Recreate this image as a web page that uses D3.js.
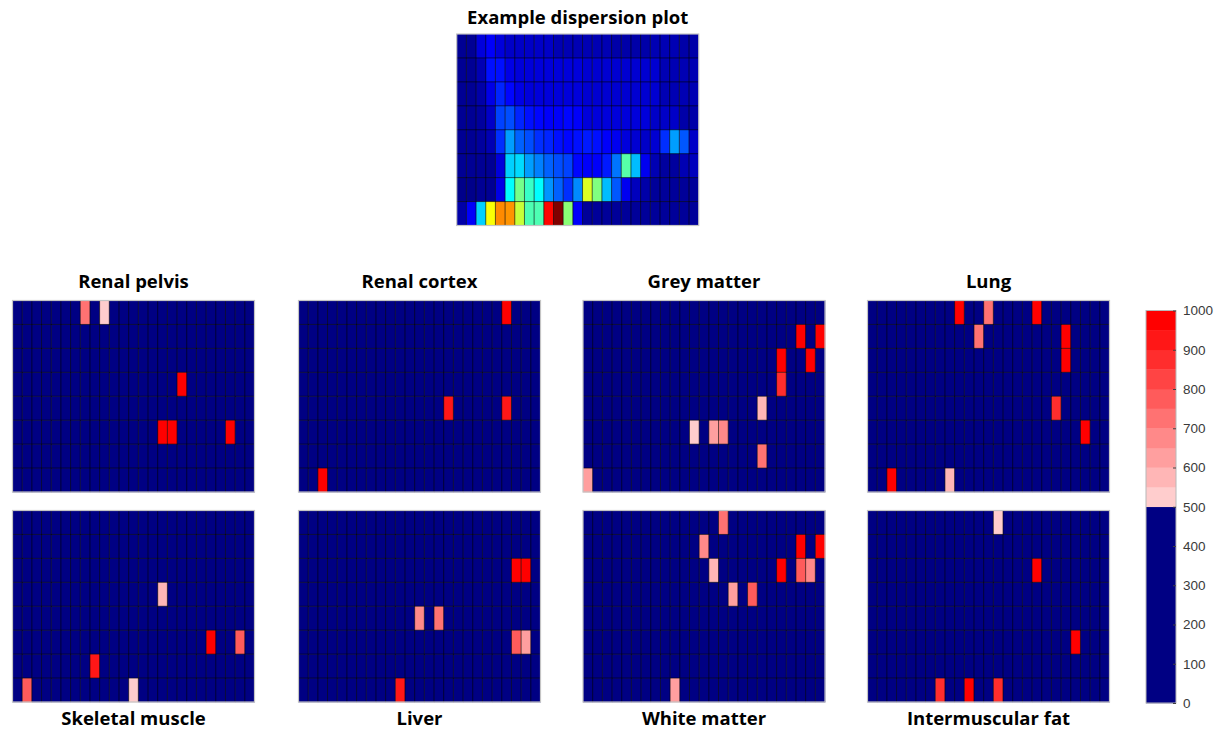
<!DOCTYPE html>
<html>
<head>
<meta charset="utf-8">
<script src="https://cdn.jsdelivr.net/npm/d3@7"></script>
<style>
  html, body { margin: 0; padding: 0; background: #fff; }
  svg { display: block; }
</style>
</head>
<body>
<svg id="chart" width="1220" height="731"></svg>
<script>
// ---- Example dispersion plot: normalised intensity (0..1, jet colormap), rows top → bottom
const dispersionRows = [
  [0.02,0.02,0.09,0.12,0.09,0.07,0.07,0.07,0.07,0.07,0.05,0.05,0.05,0.05,0.05,0.05,0.04,0.04,0.04,0.04,0.05,0.05,0.05,0.04,0.04],
  [0.02,0.02,0.05,0.14,0.14,0.10,0.09,0.09,0.09,0.09,0.09,0.09,0.09,0.08,0.08,0.08,0.08,0.08,0.08,0.08,0.08,0.05,0.05,0.05,0.05],
  [0.02,0.02,0.04,0.10,0.16,0.13,0.10,0.09,0.09,0.09,0.09,0.09,0.09,0.08,0.08,0.08,0.08,0.08,0.08,0.08,0.08,0.05,0.05,0.05,0.05],
  [0.02,0.02,0.03,0.07,0.19,0.20,0.16,0.14,0.13,0.12,0.12,0.13,0.12,0.09,0.09,0.09,0.09,0.09,0.09,0.09,0.07,0.07,0.07,0.04,0.04],
  [0.02,0.02,0.03,0.05,0.17,0.28,0.22,0.20,0.17,0.16,0.14,0.13,0.14,0.15,0.14,0.12,0.11,0.09,0.08,0.07,0.08,0.17,0.28,0.21,0.07],
  [0.02,0.02,0.02,0.02,0.09,0.33,0.34,0.28,0.25,0.22,0.20,0.19,0.13,0.12,0.12,0.15,0.24,0.46,0.31,0.11,0.05,0.03,0.03,0.05,0.06],
  [0.01,0.01,0.02,0.02,0.10,0.375,0.49,0.43,0.375,0.27,0.22,0.17,0.26,0.59,0.50,0.31,0.21,0.11,0.06,0.04,0.025,0.025,0.025,0.025,0.025],
  [0.04,0.12,0.33,0.62,0.74,0.73,0.57,0.45,0.45,0.87,1.00,0.51,0.12,0.025,0.025,0.025,0.025,0.025,0.025,0.025,0.025,0.025,0.025,0.025,0.025]
];

// ---- Tissue panels: cells above threshold as [row, column, value]; all other cells are 0
const tissueNames = ["Renal pelvis", "Renal cortex", "Grey matter", "Lung",
                     "Skeletal muscle", "Liver", "White matter", "Intermuscular fat"];
const renalPelvis     = [[0,7,730],[0,9,520],[3,17,980],[5,15,980],[5,16,990],[5,22,970]];
const renalCortex     = [[0,21,960],[4,15,930],[4,21,940],[7,2,980]];
const greyMatter      = [[1,22,990],[1,24,990],[2,20,980],[2,23,980],[3,20,880],[4,18,580],
                         [5,11,520],[5,13,600],[5,14,690],[6,18,730],[7,0,640]];
const lung            = [[0,9,990],[0,12,730],[0,17,950],[1,11,720],[1,20,960],[2,20,950],
                         [4,19,880],[5,22,990],[7,2,990],[7,8,570]];
const skeletalMuscle  = [[3,15,570],[5,20,990],[5,23,790],[6,8,900],[7,1,770],[7,12,520]];
const liver           = [[2,22,990],[2,23,990],[4,12,650],[4,14,720],[5,22,780],[5,23,630],[7,10,900]];
const whiteMatter     = [[0,14,730],[1,12,660],[1,22,990],[1,24,990],[2,13,590],[2,20,990],
                         [2,22,790],[2,23,670],[3,15,640],[3,17,790],[7,9,620]];
const intermuscularFat= [[0,13,520],[2,17,960],[5,21,980],[7,7,880],[7,10,990],[7,13,880]];
const tissueHits = [renalPelvis, renalCortex, greyMatter, lung,
                    skeletalMuscle, liver, whiteMatter, intermuscularFat];

// ---- Colour bar
const colorbarTicks = [0,100,200,300,400,500,600,700,800,900,1000];
const redSteps = [500,550,600,650,700,750,800,850,900,950,1000];

const N_COLS = 25, N_ROWS = 8;
const PANEL_W = 242, PANEL_H = 191.5;
const NAVY = "#000083";

// MATLAB-style jet colormap
function jet(v) {
  const c = x => Math.max(0, Math.min(1, x));
  const r = c(Math.min(4 * v - 1.5, -4 * v + 4.5));
  const g = c(Math.min(4 * v - 0.5, -4 * v + 3.5));
  const b = c(Math.min(4 * v + 0.5, -4 * v + 2.5));
  return d3.rgb(r * 255, g * 255, b * 255).formatHex();
}

// Threshold map for tissue values: below 500 → navy, then 10 red steps
const redColors = d3.range(10).map(k => d3.rgb(255, 205 - k * 22.8, 205 - k * 22.8).formatHex());
const tissueColor = d3.scaleThreshold()
  .domain(redSteps.slice(0, 10))
  .range([NAVY, ...redColors]);

const svg = d3.select("#chart");

const xBand = d3.scaleBand().domain(d3.range(N_COLS)).range([0, PANEL_W]);
const yBand = d3.scaleBand().domain(d3.range(N_ROWS)).range([0, PANEL_H]);

function drawPanel(x0, y0, cells, fill) {
  const g = svg.append("g").attr("transform", `translate(${x0},${y0})`);
  g.append("g").selectAll("rect").data(cells).join("rect")
    .attr("x", d => xBand(d.c))
    .attr("y", d => yBand(d.r))
    .attr("width", xBand.bandwidth() + 0.3)
    .attr("height", yBand.bandwidth() + 0.3)
    .attr("fill", d => fill(d.v));
  // cell edges
  const grid = g.append("g").attr("stroke", "#000").attr("stroke-opacity", 0.6).attr("stroke-width", 1);
  grid.selectAll("line.v").data(d3.range(1, N_COLS)).join("line")
    .attr("class", "v")
    .attr("x1", d => xBand(d)).attr("x2", d => xBand(d))
    .attr("y1", 0).attr("y2", PANEL_H);
  grid.selectAll("line.h").data(d3.range(1, N_ROWS)).join("line")
    .attr("class", "h")
    .attr("y1", d => yBand(d)).attr("y2", d => yBand(d))
    .attr("x1", 0).attr("x2", PANEL_W);
  g.append("rect")
    .attr("width", PANEL_W).attr("height", PANEL_H)
    .attr("fill", "none").attr("stroke", "#c4c4c4").attr("stroke-width", 1.2);
  return g;
}

function title(text, cx, y) {
  svg.append("text")
    .attr("x", cx).attr("y", y)
    .attr("text-anchor", "middle")
    .attr("font-family", "'Open Sans', sans-serif")
    .attr("font-weight", "bold")
    .attr("font-size", 18.5)
    .attr("fill", "#000")
    .text(text);
}

// Example dispersion plot
const dispCells = [];
dispersionRows.forEach((row, r) => row.forEach((v, c) => dispCells.push({ r, c, v })));
drawPanel(456.7, 34, dispCells, jet);
title("Example dispersion plot", 456.7 + PANEL_W / 2, 24);

// Tissue panels
const panelX = [12.5, 298.5, 583, 867.5];
const panelY = [300.5, 510.5];
tissueNames.forEach((name, i) => {
  const hits = tissueHits[i];
  const grid = [];
  for (let r = 0; r < N_ROWS; r++)
    for (let c = 0; c < N_COLS; c++) grid.push({ r, c, v: 0 });
  hits.forEach(([r, c, v]) => { grid[r * N_COLS + c].v = v; });
  const px = panelX[i % 4], py = panelY[Math.floor(i / 4)];
  drawPanel(px, py, grid, tissueColor);
  if (i < 4) title(name, px + PANEL_W / 2, 288);
  else title(name, px + PANEL_W / 2, 725);
});

// Colour bar
const cbX = 1146, cbW = 30;
const cbY = d3.scaleLinear().domain([0, 1000]).range([703, 310.5]);
const cb = svg.append("g");
const bins = [{ a: 0, b: 500, col: NAVY }].concat(
  d3.range(10).map(k => ({ a: redSteps[k], b: redSteps[k + 1], col: redColors[k] })));
cb.selectAll("rect.bin").data(bins).join("rect")
  .attr("class", "bin")
  .attr("x", cbX).attr("width", cbW)
  .attr("y", d => cbY(d.b)).attr("height", d => cbY(d.a) - cbY(d.b) + 0.3)
  .attr("fill", d => d.col);
cb.append("rect")
  .attr("x", cbX).attr("y", cbY(1000)).attr("width", cbW).attr("height", cbY(0) - cbY(1000))
  .attr("fill", "none").attr("stroke", "#b8b8b8").attr("stroke-width", 1);
const cbAxis = cb.append("g")
  .attr("transform", `translate(${cbX + cbW},0)`)
  .call(d3.axisRight(cbY).tickValues(colorbarTicks).tickFormat(d3.format("d"))
    .tickSizeInner(-3).tickSizeOuter(0).tickPadding(7));
cbAxis.select(".domain").remove();
cbAxis.selectAll("line").attr("stroke", "#404040");
cbAxis.selectAll("text")
  .attr("font-family", "'Liberation Sans', Arial, sans-serif")
  .attr("font-size", 13.5)
  .attr("fill", "#3a3a3a");
</script>
</body>
</html>
